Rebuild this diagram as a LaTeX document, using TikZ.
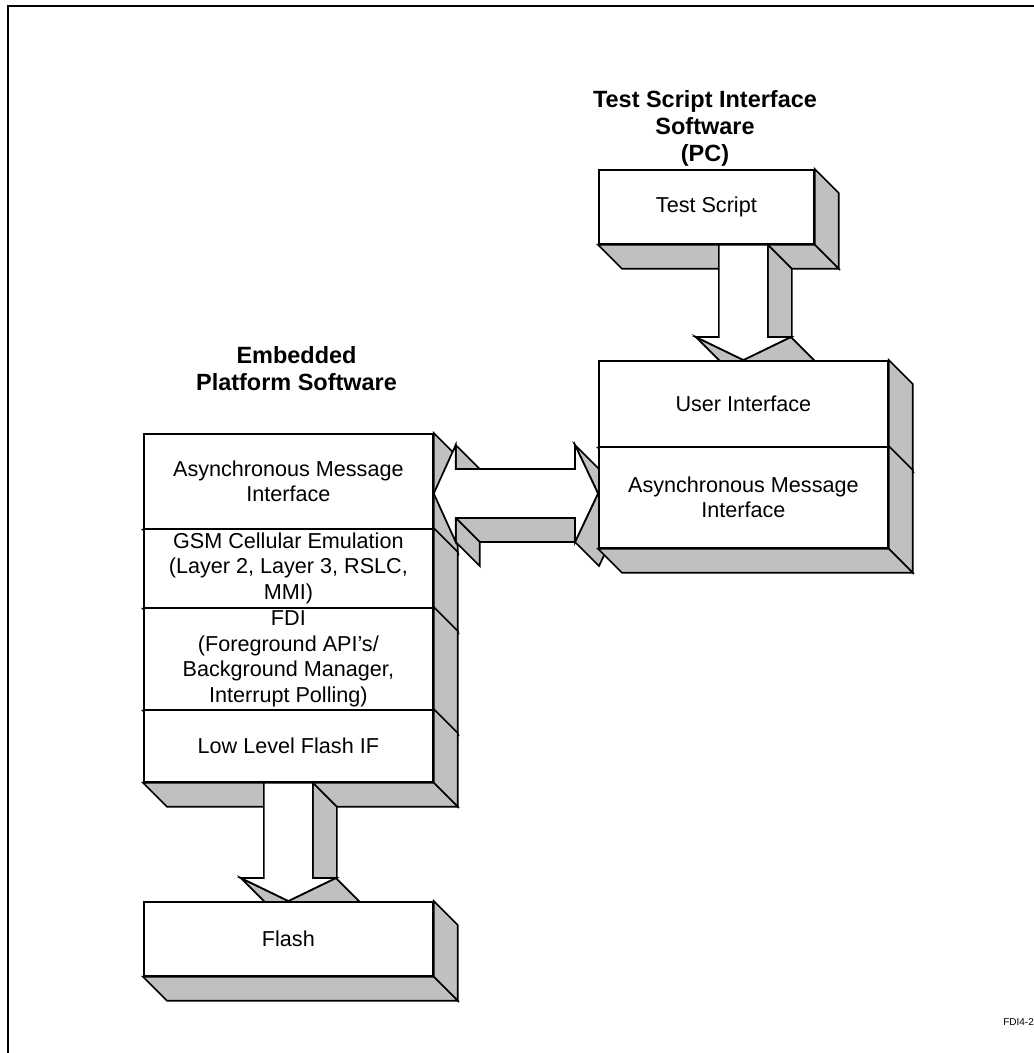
\documentclass[tikz,border=0pt]{standalone}
\usepackage{fontspec}
\setmainfont{Liberation Sans}
\usetikzlibrary{calc}
\definecolor{shadegray}{RGB}{192,192,192}
\pgfdeclarelayer{lower}
\pgfdeclarelayer{middle}
\pgfsetlayers{lower,middle,main}
\newcommand\threedee[1]{%
 \filldraw[shadow3d] (#1.north east) -- ++(24,24) -- ($(#1.south east)+(24,24)$) -- (#1.south east) -- cycle;
 \filldraw[shadow3d] (#1.south west) -- (#1.south east) -- ++(24,24) -- ($(#1.south west)+(24,24)$) -- cycle;}
\newcommand\blockdown[2]{%
 \filldraw[shadow3d] ($(#1)+(24.5,0)$) -- ($(#2)+(24.5,-23)$) -- ++(24,24) -- ($(#1)+(48.5,24)$) -- cycle;
 \filldraw[shadow3d] ($(#2)+(-47.5,-23)$) -- (#2) -- ++(24,24) -- ($(#2)+(-23.5,1)$) -- cycle;
 \filldraw[shadow3d] ($(#2)+(47.5,-23)$) -- (#2) -- ++(24,24) -- ($(#2)+(71.5,1)$) -- cycle;
 \filldraw[blockarrow] ($(#1)+(-24.5,0)$) -- ($(#2)+(-24.5,-23)$) -- ($(#2)+(-47.5,-23)$) -- (#2) -- ($(#2)+(47.5,-23)$) -- ($(#2)+(24.5,-23)$) -- ($(#1)+(24.5,0)$) -- cycle;}
\begin{document}
\begin{tikzpicture}[x=0.75pt,y=-0.75pt,line join=miter,
 box/.style={draw, fill=white, line width=1.3pt, inner sep=0pt, align=center,
   font=\fontsize{16.2}{19.2}\selectfont, anchor=north west},
 shadow3d/.style={fill=shadegray, draw=black, line width=1.3pt},
 blockarrow/.style={fill=white, draw=black, line width=1.3pt},
 title/.style={font=\fontsize{17.6}{20.25}\selectfont\bfseries, align=center, inner sep=0pt}]
\useasboundingbox (0,0) rectangle (1034,1053);

\begin{pgfonlayer}{lower}
\fill[white] (0,0) rectangle (1034,1053);
\draw[line width=1.8pt] (1060,6) -- (8,6) -- (8,1080);
\node[box, minimum width=161.25pt, minimum height=55.5pt] (ts) at (598,169) {Test Script};
\threedee{ts}
\node[box, minimum width=216.75pt, minimum height=71.25pt] (lami) at (143,433) {Asynchronous Message\\Interface};
\threedee{lami}
\node[box, minimum width=216.75pt, minimum height=59.25pt] (gsm) at (143,528) {GSM Cellular Emulation\\(Layer 2, Layer 3, RSLC,\\MMI)};
\threedee{gsm}
\node[box, minimum width=216.75pt, minimum height=76.5pt] (fdi) at (143,607) {FDI\\(Foreground API’s/\\Background Manager,\\Interrupt Polling)};
\threedee{fdi}
\node[box, minimum width=216.75pt, minimum height=54pt] (llf) at (143,709) {Low Level Flash IF};
\threedee{llf}
\end{pgfonlayer}

\node[title] (ttl1) at (296.5,369) {Embedded\\Platform Software};
\node[title] (ttl2) at (705,128) {Test Script Interface\\Software\\(PC)};
\node[anchor=base west, inner sep=0pt, font=\fontsize{7.5}{9}\selectfont] (figid) at (1003,1025) {FDI4-2};

\node[box, minimum width=216.75pt, minimum height=64.5pt] (ui) at (598,360) {User Interface};
\threedee{ui}
\node[box, minimum width=216.75pt, minimum height=75.75pt] (rami) at (598,446) {Asynchronous Message\\Interface};
\threedee{rami}
\node[box, minimum width=216.75pt, minimum height=55.5pt] (flash) at (143,901) {Flash};
\threedee{flash}

\begin{pgfonlayer}{middle}
% test script -> user interface
\coordinate (a1t) at (ui.north |- ts.south);
\coordinate (a1b) at (ui.north);
\blockdown{a1t}{a1b}
% low level flash IF -> flash
\coordinate (a2t) at (flash.north |- llf.south);
\coordinate (a2b) at (flash.north);
\blockdown{a2t}{a2b}
% double arrow between the two message interfaces
\coordinate (hy) at (0,493.5);
\coordinate (hl) at (lami.east |- hy);
\coordinate (hr) at (rami.west |- hy);
\filldraw[shadow3d] ($(hl)+(22,-48.5)$) -- ($(hl)+(22,-24.5)$) -- ++(24,24) -- ($(hl)+(46,-24.5)$) -- cycle;
\filldraw[shadow3d] ($(hr)+(-23,-48.5)$) -- (hr) -- ++(24,24) -- ($(hr)+(1,-24.5)$) -- cycle;
\filldraw[shadow3d] ($(hr)+(-23,24.5)$) -- ($(hl)+(22,24.5)$) -- ++(24,24) -- ($(hr)+(1,48.5)$) -- cycle;
\filldraw[shadow3d] ($(hl)+(22,24.5)$) -- ($(hl)+(22,48.5)$) -- ++(24,24) -- ($(hl)+(46,48.5)$) -- cycle;
\filldraw[shadow3d] (hr) -- ($(hr)+(-23,48.5)$) -- ++(24,24) -- ($(hr)+(24,24)$) -- cycle;
\filldraw[blockarrow] (hl) -- ++(22,-48.5) -- ++(0,24) -- ($(hr)+(-23,-24.5)$) -- ++(0,-24) -- (hr)
  -- ++(-23,48.5) -- ++(0,-24) -- ($(hl)+(22,24.5)$) -- ++(0,24) -- cycle;
\end{pgfonlayer}
\end{tikzpicture}
\end{document}
